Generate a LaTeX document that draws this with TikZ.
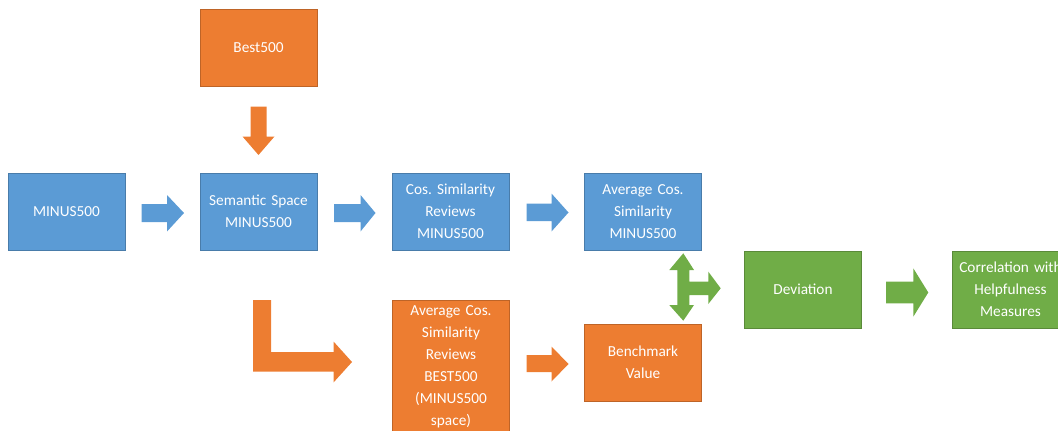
\documentclass[tikz,border=0pt]{standalone}
\usepackage{fontspec}
\setmainfont{Carlito}
\frenchspacing
\definecolor{cblue}{HTML}{5B9BD5}
\definecolor{corange}{HTML}{ED7D31}
\definecolor{cgreen}{HTML}{70AD47}
\begin{document}
\begin{tikzpicture}[x=1pt,y=-1pt,
  box/.style={minimum width=117pt,minimum height=77pt,inner sep=0pt,
    text width=117pt,align=center,text=white,
    font=\fontsize{15.3}{22}\selectfont\frenchspacing,line width=0.5pt},
  bluebox/.style={box,fill=cblue,draw=cblue!80!black},
  orangebox/.style={box,fill=corange,draw=corange!80!black},
  greenbox/.style={box,fill=cgreen,draw=cgreen!80!black}]
\useasboundingbox (0,0) rectangle (1058,431);
\clip (0,0) rectangle (1058,431);
% boxes
\node[orangebox] (best) at (258.5,48) {Best500};
\node[bluebox] (minus) at (66.5,211.5) {MINUS500};
\node[bluebox] (sem) at (258.5,211.5) {Semantic Space\\MINUS500};
\node[bluebox] (cos) at (450.5,211.5) {Cos. Similarity\\Reviews\\MINUS500};
\node[bluebox] (avg) at (643,211.5) {Average Cos.\\Similarity\\MINUS500};
\node[greenbox] (dev) at (803,289.5) {Deviation};
\node[greenbox] (corr) at (1010.5,289.5) {Correlation with\\Helpfulness\\Measures};
\node[orangebox,minimum height=134pt] (avgb) at (451,367) {Average Cos.\\Similarity\\Reviews\\BEST500\\(MINUS500\\space)};
\node[orangebox] (bench) at (643,362.5) {Benchmark\\Value};
% blue block arrows
\fill[cblue] (141.5,204) -- (167,204) -- (167,195) -- (184,213) -- (167,231.5) -- (167,222) -- (141.5,222) -- cycle;
\fill[cblue] (334,204) -- (360.5,204) -- (360.5,195) -- (375.5,213) -- (360.5,231.5) -- (360.5,222) -- (334,222) -- cycle;
\fill[cblue] (526.5,203.5) -- (551.5,203.5) -- (551.5,193.5) -- (568.5,212.5) -- (551.5,231.5) -- (551.5,221) -- (526.5,221) -- cycle;
% orange down arrow
\fill[corange] (250.5,106.5) -- (266.5,106.5) -- (266.5,136.5) -- (274.5,136.5) -- (258.5,155) -- (242.5,136.5) -- (250.5,136.5) -- cycle;
% orange L arrow
\fill[corange] (253,300) -- (271,300) -- (271,352) -- (333.5,352) -- (333.5,341.5) -- (352,362) -- (333.5,382.5) -- (333.5,371.5) -- (253,371.5) -- cycle;
% orange right arrow
\fill[corange] (526.5,355) -- (551.5,355) -- (551.5,346.5) -- (568.5,364) -- (551.5,381.5) -- (551.5,372) -- (526.5,372) -- cycle;
% green three-way arrow
\fill[cgreen] (683.3,253.3) -- (694,270) -- (689.3,270) -- (689.3,281.7) -- (708.3,281.7) -- (708.3,271.7) -- (720.7,288.3) -- (708.3,304) -- (708.3,295) -- (689.3,295) -- (689.3,305) -- (694,305) -- (683.3,320.7) -- (669.3,305) -- (677.3,305) -- (677.3,270) -- (669.3,270) -- cycle;
% green right arrow
\fill[cgreen] (886,281.7) -- (913.3,281.7) -- (913.3,268.3) -- (928.3,292.5) -- (913.3,316.7) -- (913.3,303.3) -- (886,303.3) -- cycle;
\end{tikzpicture}
\end{document}
